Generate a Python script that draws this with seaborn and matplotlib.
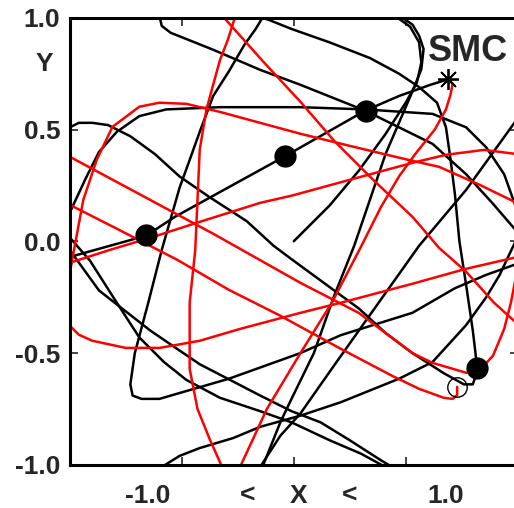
import numpy as np
import pandas as pd
import matplotlib
matplotlib.use('Agg')
import matplotlib.pyplot as plt
import matplotlib.transforms as mtransforms
import seaborn as sns

# black orbit pieces (plot units)
k1_x = [-1.00, -0.66, -0.53, -0.04, 0.32, 0.47, 0.61, 0.69]
k1_y = [-0.07, 0.025, 0.11, 0.38, 0.585, 0.65, 0.70, 0.725]

k2_x = [-1.00, -0.93, -0.87, -0.79, -0.69, -0.57, -0.33, 0.03, 0.32, 0.47, 0.62, 0.77, 0.86, 0.94, 0.99]
k2_y = [0.13, 0.28, 0.40, 0.49, 0.56, 0.59, 0.60, 0.60, 0.59, 0.58, 0.57, 0.51, 0.42, 0.30, 0.16]

k3_x = [-1.00, -0.96, -0.90, -0.83, -0.73, -0.62, -0.51, -0.38, -0.21, -0.09, -0.01, 0.14, 0.29, 0.41,
        0.53, 0.67, 0.76, 0.80, 0.81, 0.82]
k3_y = [0.51, 0.53, 0.53, 0.52, 0.47, 0.39, 0.29, 0.20, 0.09, -0.02, -0.08, -0.19, -0.30, -0.41,
        -0.50, -0.59, -0.64, -0.64, -0.61, -0.57]

k4_x = [0.82, 0.80, 0.77, 0.74, 0.72, 0.70, 0.68, 0.64, 0.56, 0.47, 0.34, 0.16, -0.01, -0.11, -0.14,
        -0.17, -0.22, -0.29, -0.36, -0.42, -0.47, -0.51, -0.59, -0.65, -0.71, -0.73, -0.72, -0.68,
        -0.60, -0.48, -0.29, 0.03, 0.21, 0.53, 0.72, 0.86, 1.00]
k4_y = [-0.57, -0.40, -0.195, 0.00, 0.21, 0.37, 0.51, 0.62, 0.69, 0.75, 0.82, 0.89, 0.95, 0.99, 1.00,
        0.95, 0.88, 0.76, 0.65, 0.49, 0.35, 0.24, -0.04, -0.275, -0.50, -0.64, -0.69, -0.705,
        -0.705, -0.67, -0.615, -0.50, -0.42, -0.32, -0.21, -0.15, -0.10]

k5_x = [0.00, 0.16, 0.29, 0.41, 0.50, 0.55, 0.57, 0.56, 0.52, 0.45]
k5_y = [0.00, 0.16, 0.315, 0.48, 0.62, 0.71, 0.80, 0.89, 0.96, 1.01]

k6_x = [0.47, 0.53, 0.56, 0.58, 0.57, 0.53, 0.41, 0.27, 0.18, 0.09, -0.01, -0.06, -0.14]
k6_y = [1.01, 0.97, 0.92, 0.86, 0.77, 0.67, 0.39, -0.02, -0.245, -0.50, -0.705, -0.81, -1.01]

k7_x = [1.00, 0.77, 0.56, 0.34, 0.17, 0.03, -0.06, -0.15]
k7_y = [0.55, 0.23, -0.02, -0.33, -0.57, -0.77, -0.87, -1.01]

k8_x = [-0.59, -0.51, -0.42, -0.27, -0.15, 0.03, 0.21, 0.47, 0.62, 0.77, 0.86, 0.92, 1.00]
k8_y = [-1.01, -0.96, -0.925, -0.88, -0.83, -0.78, -0.72, -0.615, -0.54, -0.375, -0.25, -0.15, 0.02]

k9_x = [-1.00, -0.91, -0.80, -0.69, -0.58, -0.48, -0.33, -0.15, -0.01, 0.16, 0.30, 0.41]
k9_y = [0.016, -0.087, -0.26, -0.43, -0.54, -0.62, -0.70, -0.76, -0.81, -0.89, -0.95, -1.01]

k10_x = [-1.00, -0.87, -0.64, -0.42, -0.15, -0.01, 0.12, 0.25, 0.39, 0.44]
k10_y = [-0.04, -0.22, -0.40, -0.55, -0.69, -0.76, -0.81, -0.89, -0.98, -1.01]

k11_x = [-0.60, -0.59, -0.55, -0.36, -0.15, 0.03, 0.32, 0.47, 0.62, 0.77, 0.89, 1.00]
k11_y = [1.01, 0.964, 0.933, 0.857, 0.767, 0.70, 0.584, 0.51, 0.436, 0.30, 0.168, 0.04]

# red orbit pieces
r1_x = [0.69, 0.71, 0.70, 0.68, 0.63, 0.54, 0.47, 0.39, 0.30, 0.17, 0.03, -0.12, -0.24]
r1_y = [0.725, 0.705, 0.655, 0.59, 0.50, 0.387, 0.29, 0.154, -0.025, -0.275, -0.50, -0.75, -1.01]

r2_x = [-1.00, -0.99, -0.94, -0.88, -0.81, -0.69, -0.60, -0.48, -0.33, -0.15, 0.03, 0.25, 0.53, 0.65, 0.83, 1.00]
r2_y = [-0.14, -0.083, 0.186, 0.365, 0.512, 0.602, 0.62, 0.615, 0.579, 0.53, 0.481, 0.427, 0.36, 0.333, 0.253, 0.17]

r3_x = [-1.00, -0.96, -0.90, -0.75, -0.60, -0.42, -0.24, 0.03, 0.21, 0.53, 0.77, 1.00]
r3_y = [-0.378, -0.418, -0.445, -0.477, -0.477, -0.445, -0.392, -0.32, -0.275, -0.19, -0.123, -0.07]

r4_x = [-1.00, -0.82, -0.64, -0.42, -0.15, -0.01, 0.25, 0.53, 0.68, 0.85, 1.00]
r4_y = [-0.096, -0.038, 0.016, 0.087, 0.172, 0.204, 0.275, 0.351, 0.387, 0.409, 0.39]

r5_x = [-1.00, -0.36, 0.03, 0.29, 0.53, 0.62, 0.77, 0.82, 0.89, 0.94, 0.97, 1.00]
r5_y = [0.378, 0.034, -0.186, -0.32, -0.50, -0.544, -0.588, -0.588, -0.512, -0.392, -0.275, -0.12]

r6_x = [-1.00, -0.78, -0.52, -0.29, -0.06, 0.21, 0.44, 0.56, 0.67, 0.71, 0.73, 0.73]
r6_y = [0.163, 0.051, -0.083, -0.217, -0.333, -0.481, -0.602, -0.66, -0.70, -0.705, -0.687, -0.651]

r7_x = [-0.32, -0.14, 0.03, 0.18, 0.36, 0.53, 0.65, 0.77, 0.895, 1.00]
r7_y = [1.01, 0.808, 0.624, 0.45, 0.27, 0.11, -0.03, -0.136, -0.275, -0.37]

r8_x = [-0.26, -0.295, -0.33, -0.39, -0.42, -0.43, -0.44, -0.465, -0.465, -0.43, -0.376, -0.32]
r8_y = [1.01, 0.90, 0.81, 0.59, 0.41, 0.186, -0.038, -0.275, -0.57, -0.75, -0.884, -1.01]

# markers
dot_x = [-0.66, -0.04, 0.322, 0.817]
dot_y = [0.028, 0.383, 0.585, -0.569]
smc_x = [0.69]
smc_y = [0.724]
open_x = [0.728]
open_y = [-0.654]

ytick_vals = [-1.0, -0.5, 0.0, 0.5, 1.0]
ytick_labels = ['-1.0', '-0.5', '0.0', '0.5', '1.0']
xtick_vals = [-0.5, 0.0, 0.5]
xlabel_parts = ['-1.0', '<', 'X', '<', '1.0']

pieces = [
    ('k1', 'black', k1_x, k1_y), ('k2', 'black', k2_x, k2_y), ('k3', 'black', k3_x, k3_y),
    ('k4', 'black', k4_x, k4_y), ('k5', 'black', k5_x, k5_y), ('k6', 'black', k6_x, k6_y),
    ('k7', 'black', k7_x, k7_y), ('k8', 'black', k8_x, k8_y), ('k9', 'black', k9_x, k9_y),
    ('k10', 'black', k10_x, k10_y), ('k11', 'black', k11_x, k11_y),
    ('r1', 'red', r1_x, r1_y), ('r2', 'red', r2_x, r2_y), ('r3', 'red', r3_x, r3_y),
    ('r4', 'red', r4_x, r4_y), ('r5', 'red', r5_x, r5_y), ('r6', 'red', r6_x, r6_y),
    ('r7', 'red', r7_x, r7_y), ('r8', 'red', r8_x, r8_y),
]
rows = []
for name, col, xs, ys in pieces:
    for x, y in zip(xs, ys):
        rows.append((name, col, x, y))
df = pd.DataFrame(rows, columns=['piece', 'colour', 'x', 'y'])

sns.set_theme(style='ticks')
plt.rcParams['font.family'] = ['Liberation Sans', 'DejaVu Sans']
plt.rcParams['font.weight'] = 'bold'

fig = plt.figure(figsize=(5.14, 5.08), dpi=100)
ax = fig.add_axes([0.136, 0.085, 0.871, 0.88])

sns.lineplot(data=df, x='x', y='y', units='piece', hue='colour', hue_order=['black', 'red'],
             palette={'black': 'black', 'red': 'red'}, estimator=None, sort=False,
             lw=1.8, legend=False, ax=ax)

sns.scatterplot(x=dot_x, y=dot_y, s=220, color='black', edgecolor='black', zorder=5, ax=ax)
ax.plot(smc_x, smc_y, ls='none', marker=(8, 2, 0), ms=15, mew=1.3, color='black', zorder=5)
ax.plot(open_x, open_y, ls='none', marker='o', ms=14, mfc='none', mec='black', mew=1.0, zorder=5)

ax.text(0.78, 0.85, 'SMC', ha='center', va='center', fontsize=26, fontweight='bold')

ax.set_xlim(-1, 1)
ax.set_ylim(-1, 1)
ax.set_xticks(xtick_vals)
ax.set_xticklabels([])
ax.set_yticks(ytick_vals)
ax.set_yticklabels(ytick_labels)
ax.set_xlabel('')
ax.set_ylabel('')
ax.tick_params(direction='in', length=6, width=1.2, top=True, right=True,
               labelsize=19, pad=7)
for s in ax.spines.values():
    s.set_linewidth(2.2)
    s.set_color('black')

fig.text(44 / 514, 1 - 64 / 508, 'Y', ha='center', va='center', fontsize=19, fontweight='bold')

trans = mtransforms.blended_transform_factory(ax.transData, ax.transAxes)
for xp, lab in zip([-0.653, -0.206, 0.022, 0.251, 0.68], xlabel_parts):
    ax.text(xp, -0.069, lab, transform=trans, ha='center', va='center',
            fontsize=19, fontweight='bold', clip_on=False)

fig.savefig('out.png', dpi=100)
